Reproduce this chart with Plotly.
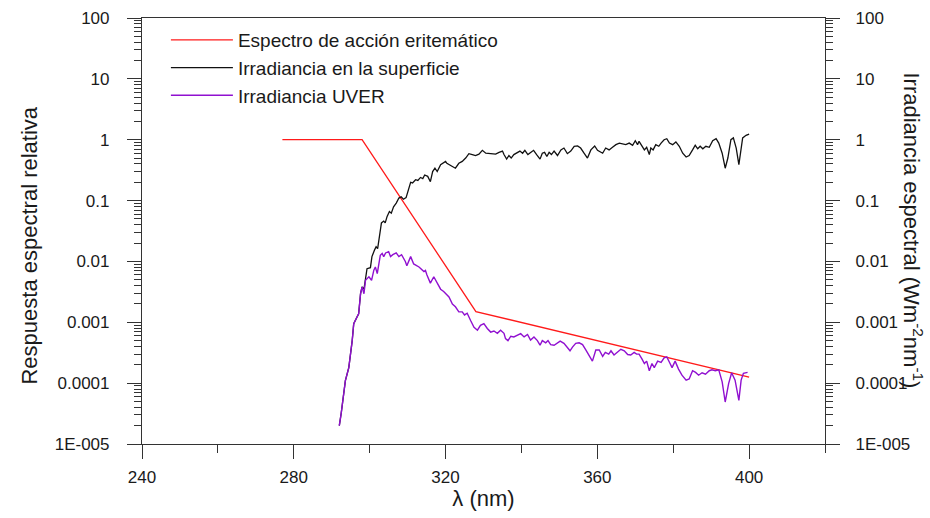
import plotly.graph_objects as go

# ---- data ----
# Erythemal action spectrum (breakpoints)
red_wl = [277, 298, 328, 400]
red_val = [1.0, 1.0, 0.0015, 0.000126]

# Surface spectral irradiance (W m-2 nm-1)
blk_wl = [292.0, 292.5, 293.6, 294.5, 295.4, 295.8, 296.7, 297.1, 297.6, 298.0,
          298.5, 298.9, 299.3, 300.2, 300.6, 301.3, 301.7, 302.1, 302.7, 303.1,
          303.7, 304.1, 304.6, 305.2, 305.7, 306.3, 307.0, 307.7, 308.3, 308.9,
          309.6, 310.3, 310.8, 311.3, 312.1, 312.7, 313.4, 314.0, 314.5, 315.3,
          316.0, 316.6, 317.2, 317.8, 318.4, 318.7, 320.0, 320.35, 321.8, 322.6,
          323.5, 324.4, 325.3, 326.15, 327.05, 327.9, 328.8, 329.7, 330.6, 331.9,
          333.2, 334.1, 335.0, 335.4, 336.1, 336.7, 337.3, 338.0, 338.7, 339.6,
          340.3, 340.9, 341.7, 342.4, 343.2, 344.0, 344.9, 345.5, 346.1, 346.7,
          347.3, 347.9, 348.6, 349.5, 350.4, 351.2, 352.1, 353.0, 353.9, 354.8,
          355.6, 356.5, 357.4, 358.3, 359.3, 360.05, 360.5, 361.4, 362.2, 363.1,
          364.0, 364.9, 365.8, 366.65, 367.5, 368.4, 369.3, 370.0, 370.6, 371.0,
          371.75, 372.4, 373.0, 373.7, 374.1, 374.7, 375.4, 376.2, 376.8, 377.6,
          378.3, 379.0, 379.85, 380.7, 381.6, 382.5, 383.4, 384.2, 385.1, 385.8,
          386.45, 387.1, 387.8, 388.6, 389.5, 390.4, 391.3, 392.0, 392.9, 393.7,
          394.4, 395.2, 395.85, 396.6, 397.3, 397.9, 398.3, 399.2, 400.0]
blk_val = [2.0e-5, 3.2e-5, 1.1e-4, 1.8e-4, 5.0e-4, 9.5e-4, 1.23e-3, 1.38e-3, 2.95e-3, 3.8e-3,
           3.5e-3, 5.6e-3, 7.6e-3, 7.9e-3, 0.012, 0.0155, 0.0174, 0.0162, 0.029, 0.043,
           0.046, 0.043, 0.055, 0.066, 0.062, 0.079, 0.091, 0.11, 0.115, 0.105,
           0.112, 0.158, 0.20, 0.195, 0.22, 0.214, 0.24, 0.23, 0.263, 0.25,
           0.204, 0.30, 0.34, 0.30, 0.363, 0.39, 0.44, 0.41, 0.363, 0.34,
           0.41, 0.44, 0.50, 0.59, 0.57, 0.55, 0.58, 0.67, 0.60, 0.59,
           0.58, 0.62, 0.65, 0.57, 0.48, 0.55, 0.50, 0.57, 0.60, 0.65,
           0.60, 0.67, 0.57, 0.62, 0.67, 0.57, 0.48, 0.60, 0.62, 0.53,
           0.62, 0.57, 0.65, 0.55, 0.68, 0.73, 0.59, 0.65, 0.78, 0.79,
           0.73, 0.60, 0.50, 0.68, 0.79, 0.67, 0.65, 0.60, 0.73, 0.68,
           0.75, 0.83, 0.88, 0.85, 0.83, 0.88, 0.81, 0.96, 0.83, 0.94,
           0.81, 0.68, 0.75, 0.57, 0.73, 0.68, 0.83, 0.78, 0.88, 1.0,
           1.04, 0.88, 0.83, 0.92, 0.78, 0.60, 0.52, 0.55, 0.68, 0.81,
           0.71, 0.78, 0.71, 0.78, 0.75, 0.96, 1.04, 0.88, 0.60, 0.34,
           0.50, 1.0, 1.07, 0.73, 0.39, 0.73, 1.07, 1.18, 1.24]

# Erythemally weighted (UVER) spectral irradiance
uv_wl = [292.0, 292.5, 293.6, 294.5, 295.4, 295.8, 296.7, 297.1, 297.6, 298.0,
         298.5, 298.9, 299.8, 300.5, 301.1, 301.5, 302.0, 302.4, 302.8, 303.3,
         303.7, 304.2, 305.0, 305.5, 306.1, 307.0, 307.7, 308.4, 309.4, 309.8,
         310.8, 311.6, 313.0, 314.3, 314.7, 315.1, 316.0, 316.9, 317.8, 318.7,
         319.5, 320.0, 320.9, 321.8, 322.6, 323.5, 324.4, 325.0, 325.7, 326.6,
         327.5, 328.4, 329.2, 330.1, 331.0, 331.9, 332.75, 333.65, 334.5, 335.4,
         335.8, 336.45, 337.2, 338.0, 339.1, 339.8, 340.7, 341.6, 342.4, 343.3,
         344.2, 344.9, 345.5, 346.4, 347.0, 347.7, 348.6, 349.5, 350.2, 351.2,
         352.1, 352.8, 353.45, 354.3, 355.2, 356.1, 357.0, 357.8, 358.7, 359.6,
         360.5, 361.4, 362.1, 363.0, 363.6, 364.4, 365.3, 366.2, 367.1, 368.0,
         368.8, 369.7, 370.35, 371.0, 371.75, 372.4, 373.0, 373.7, 374.4, 375.0,
         375.9, 376.8, 377.6, 378.3, 379.0, 379.7, 380.5, 381.4, 382.3, 383.4,
         384.2, 385.1, 385.9, 386.7, 387.6, 388.5, 389.5, 390.2, 391.1, 392.0,
         392.9, 393.7, 394.6, 395.4, 396.3, 397.3, 397.9, 398.5, 399.6]
uv_val = [2.0e-5, 3.2e-5, 1.1e-4, 1.8e-4, 5.0e-4, 9.5e-4, 1.23e-3, 1.38e-3, 2.95e-3, 3.8e-3,
          2.95e-3, 4.9e-3, 5.6e-3, 4.9e-3, 7.2e-3, 8.1e-3, 6.3e-3, 9.1e-3, 0.0126, 0.0135,
          0.012, 0.0138, 0.0145, 0.012, 0.0129, 0.0138, 0.012, 0.0129, 0.010, 8.5e-3,
          0.012, 9.1e-3, 8.1e-3, 6.8e-3, 7.1e-3, 6.0e-3, 4.4e-3, 5.6e-3, 4.4e-3, 3.5e-3,
          3.2e-3, 2.95e-3, 2.6e-3, 2.0e-3, 1.8e-3, 1.48e-3, 1.48e-3, 1.32e-3, 1.41e-3, 1.07e-3,
          8.3e-4, 7.4e-4, 8.9e-4, 9.5e-4, 7.9e-4, 6.9e-4, 7.2e-4, 6.6e-4, 7.4e-4, 6.6e-4,
          5.4e-4, 5.0e-4, 5.9e-4, 5.75e-4, 6.2e-4, 6.5e-4, 5.75e-4, 6.3e-4, 5.1e-4, 5.75e-4,
          5.0e-4, 4.2e-4, 5.0e-4, 4.6e-4, 5.0e-4, 4.3e-4, 4.2e-4, 4.5e-4, 4.9e-4, 4.5e-4,
          3.9e-4, 3.4e-4, 3.9e-4, 4.5e-4, 4.6e-4, 4.3e-4, 3.5e-4, 2.9e-4, 2.3e-4, 3.5e-4,
          3.5e-4, 2.75e-4, 3.2e-4, 3.0e-4, 3.4e-4, 2.9e-4, 3.2e-4, 3.6e-4, 3.4e-4, 2.95e-4,
          2.9e-4, 3.2e-4, 3.0e-4, 3.0e-4, 2.5e-4, 2.1e-4, 2.3e-4, 1.6e-4, 2.1e-4, 1.8e-4,
          2.3e-4, 2.2e-4, 2.6e-4, 2.7e-4, 2.2e-4, 1.8e-4, 2.3e-4, 1.7e-4, 1.35e-4, 1.12e-4,
          1.17e-4, 1.6e-4, 1.5e-4, 1.35e-4, 1.48e-4, 1.4e-4, 1.6e-4, 1.66e-4, 1.6e-4, 1.66e-4,
          1.05e-4, 4.9e-5, 9.8e-5, 1.48e-4, 1.12e-4, 5.2e-5, 1.12e-4, 1.45e-4, 1.5e-4]

# axis ticks
x_ticks = [240, 280, 320, 360, 400]
y_ticks = [1e-5, 1e-4, 1e-3, 1e-2, 1e-1, 1, 10, 100]
y_ticktext = ["1E-005", "0.0001", "0.001", "0.01", "0.1", "1", "10", "100"]
y_minor = [m * d for d in [1e-5, 1e-4, 1e-3, 1e-2, 1e-1, 1, 10] for m in range(2, 10)]

FONT = "Liberation Sans, Arial, sans-serif"
AXC = "#333333"
TXT = "#1a1a1a"

fig = go.Figure()
fig.add_trace(go.Scatter(x=red_wl, y=red_val, mode="lines", name="Espectro de acción eritemático",
                         line=dict(color="#ff1a1a", width=1.3)))
fig.add_trace(go.Scatter(x=blk_wl, y=blk_val, mode="lines", name="Irradiancia en la superficie",
                         line=dict(color="#111111", width=1.3), yaxis="y2"))
fig.add_trace(go.Scatter(x=uv_wl, y=uv_val, mode="lines", name="Irradiancia UVER",
                         line=dict(color="#9010d0", width=1.4), yaxis="y2"))

yax = dict(type="log", range=[-5, 2], tickmode="array", tickvals=y_ticks, ticktext=y_ticktext,
           showline=True, linecolor=AXC, linewidth=1.2, ticks="outside", ticklen=14,
           tickcolor=AXC, tickwidth=1.2, showgrid=False, zeroline=False, automargin=False,
           tickfont=dict(family=FONT, size=17, color=TXT), ticklabelstandoff=14,
           minor=dict(tickmode="array", tickvals=y_minor, ticks="outside", ticklen=7,
                      tickcolor=AXC, tickwidth=1, showgrid=False))

fig.update_layout(
    width=930, height=518,
    margin=dict(l=142, r=105, t=18, b=74),
    paper_bgcolor="white", plot_bgcolor="white",
    font=dict(family=FONT, color=TXT),
    xaxis=dict(range=[240, 420], tickmode="array", tickvals=x_ticks,
               showline=True, mirror=True, linecolor=AXC, linewidth=1.2,
               ticks="outside", ticklen=14, tickcolor=AXC, tickwidth=1.2,
               showgrid=False, zeroline=False, ticklabelstandoff=3, automargin=False,
               tickfont=dict(family=FONT, size=17, color=TXT),
               minor=dict(tickmode="linear", tick0=240, dtick=20, ticks="outside",
                          ticklen=8, tickcolor=AXC, tickwidth=1, showgrid=False),
               title=dict(text="λ (nm)", font=dict(family=FONT, size=22, color=TXT), standoff=4)),
    yaxis=yax,
    yaxis2=dict(yax, overlaying="y", side="right", anchor="x", ticklabelstandoff=12),
    showlegend=True,
    legend=dict(x=0.035, y=0.993, xanchor="left", yanchor="top", bgcolor="rgba(0,0,0,0)",
                font=dict(family=FONT, size=19, color=TXT), itemwidth=62, tracegroupgap=0),
    annotations=[
        dict(text="Respuesta espectral relativa", xref="paper", yref="paper",
             x=-0.186, y=0.467, textangle=-90, showarrow=False,
             font=dict(family=FONT, size=22, color=TXT)),
        dict(text="Irradiancia espectral (Wm<sup>-2</sup>nm<sup>-1</sup>)", xref="paper", yref="paper",
             x=1.153, y=0.50, textangle=90, showarrow=False,
             font=dict(family=FONT, size=22, color=TXT)),
    ],
)

fig.write_html("out.html")
